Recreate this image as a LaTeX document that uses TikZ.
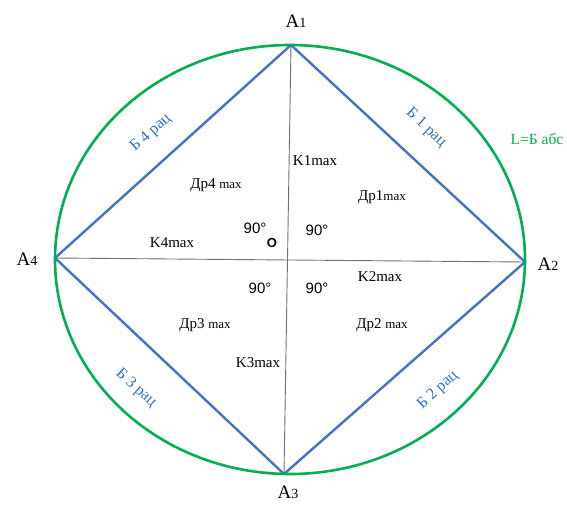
\documentclass[tikz,border=0pt]{standalone}
\usepackage{fontspec}
\setmainfont{Liberation Serif}
\newfontfamily\degfont{Liberation Sans}
\definecolor{rbBlue}{HTML}{4472C4}
\definecolor{rbLabel}{HTML}{2E75B6}
\definecolor{rbGreen}{HTML}{00B050}
\definecolor{rbGray}{HTML}{6F6F6F}

\begin{document}
\begin{tikzpicture}[x=1pt,y=-1pt,
    vert/.style={font=\fontsize{19}{19}\selectfont, inner sep=0pt},
    lbl/.style={font=\fontsize{15}{15}\selectfont, inner sep=0pt},
    ang/.style={font=\degfont\fontsize{15}{15}\selectfont, inner sep=0pt},
    side/.style={rbLabel, font=\fontsize{16}{16}\selectfont, inner sep=0pt}]
    \useasboundingbox (0,0) rectangle (567,506);
    % vertices of the rhombus
    \coordinate (A1) at (291,45);
    \coordinate (A2) at (525,262);
    \coordinate (A3) at (284,474);
    \coordinate (A4) at (55,258);
    \coordinate (C) at (290,259.5);
    % diagonals
    \draw[rbGray, line width=0.9pt] (A1) -- (A3);
    \draw[rbGray, line width=0.9pt] (A4) -- (A2);
    % sides
    \draw[rbBlue, line width=2.4pt, line join=round] (A1) -- (A2) -- (A3) -- (A4) -- cycle;
    % outer ellipse
    \draw[rbGreen, line width=2.6pt] (C) ellipse [x radius=235pt, y radius=214.5pt];
    % vertex labels
    \node[vert] (lA1) at (296,21) {A{\fontsize{14}{14}\selectfont 1}};
    \node[vert] (lA2) at (548,264) {A{\fontsize{14}{14}\selectfont 2}};
    \node[vert] (lA3) at (288,492) {A{\fontsize{14}{14}\selectfont 3}};
    \node[vert] (lA4) at (27,259) {A{\fontsize{14}{14}\selectfont 4}};
    % side labels
    \node[side, rotate=42]  (b4) at (151,133) {Б 4 рац};
    \node[side, rotate=-43] (b1) at (426,128) {Б 1 рац};
    \node[side, rotate=-42] (b3) at (136,388) {Б 3 рац};
    \node[side, rotate=42]  (b2) at (438,390) {Б 2 рац};
    \node[side, rbGreen, font=\fontsize{15.5}{15.5}\selectfont] (labs) at (537,139) {L=Б абс};
    % inner labels
    \node[lbl] (k1) at (315,161) {K1max};
    \node[lbl] (k2) at (380,277) {K2max};
    \node[lbl] (k3) at (258,363) {K3max};
    \node[lbl] (k4) at (172,243) {K4max};
    \node[lbl] (d1) at (382,197) {Др1{\fontsize{13}{13}\selectfont max}};
    \node[lbl] (d2) at (382,325) {Др2 {\fontsize{13}{13}\selectfont max}};
    \node[lbl] (d3) at (205,325) {Др3 {\fontsize{13}{13}\selectfont max}};
    \node[lbl] (d4) at (216,185) {Др4 {\fontsize{13}{13}\selectfont max}};
    % right angles
    \node[ang] (r1) at (255,228) {90°};
    \node[ang] (r2) at (317,230) {90°};
    \node[ang] (r3) at (260,288) {90°};
    \node[ang] (r4) at (317,288) {90°};
    \node[ang, font=\degfont\bfseries\fontsize{13}{13}\selectfont] (o) at (272,243) {O};
\end{tikzpicture}
\end{document}
